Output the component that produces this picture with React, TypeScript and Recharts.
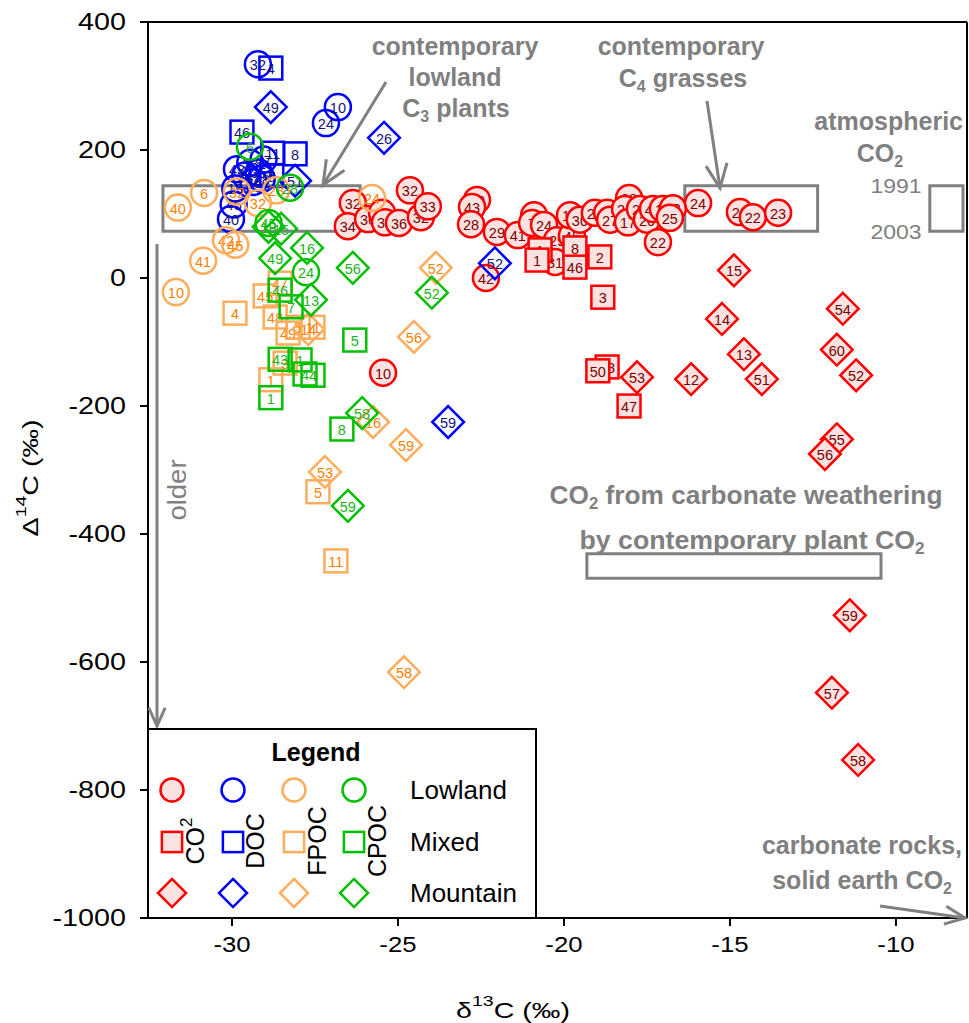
import React from "react";
import { ScatterChart, Scatter, XAxis, YAxis, ReferenceArea } from "recharts";

type Pt = { x: number; y: number; n: string };

const xTicks = [-30, -25, -20, -15, -10];
const yTicks = [-1000, -800, -600, -400, -200, 0, 200, 400];

// CO2 samples
const co2Lowland: Pt[] = [
  { x: -26.36, y: 117, n: "32" }, { x: -26.51, y: 81, n: "34" }, { x: -25.9, y: 92, n: "36" },
  { x: -25.48, y: 102, n: "34" }, { x: -25.39, y: 87, n: "35" }, { x: -24.97, y: 86, n: "36" },
  { x: -24.64, y: 137, n: "32" }, { x: -24.31, y: 95, n: "32" }, { x: -24.1, y: 112, n: "33" },
  { x: -22.62, y: 122, n: "40" }, { x: -22.77, y: 111, n: "43" }, { x: -22.8, y: 84, n: "28" },
  { x: -22.02, y: 72, n: "29" }, { x: -22.35, y: 0, n: "42" }, { x: -21.39, y: 67, n: "41" },
  { x: -20.9, y: 98, n: "4" }, { x: -20.96, y: 86, n: "7" }, { x: -20.6, y: 83, n: "24" },
  { x: -20.21, y: 59, n: "29" }, { x: -20.27, y: 25, n: "31" }, { x: -19.76, y: 66, n: "45" },
  { x: -19.82, y: 98, n: "19" }, { x: -19.52, y: 91, n: "30" }, { x: -19.07, y: 102, n: "20" },
  { x: -18.7, y: 102, n: "26" }, { x: -18.61, y: 91, n: "27" }, { x: -18.04, y: 125, n: "28" },
  { x: -18.16, y: 108, n: "25" }, { x: -18.07, y: 87, n: "17" }, { x: -17.71, y: 108, n: "24" },
  { x: -17.5, y: 91, n: "20" }, { x: -17.32, y: 108, n: "49" }, { x: -17.02, y: 108, n: "19" },
  { x: -16.72, y: 109, n: "23" }, { x: -16.81, y: 94, n: "25" }, { x: -17.17, y: 56, n: "22" },
  { x: -15.96, y: 117, n: "24" }, { x: -14.7, y: 103, n: "22" }, { x: -14.31, y: 95, n: "22" },
  { x: -13.55, y: 102, n: "23" }, { x: -25.45, y: -148, n: "10" },
];
const co2Mixed: Pt[] = [
  { x: -20.72, y: 44, n: "1" }, { x: -20.81, y: 28, n: "1" }, { x: -19.67, y: 47, n: "8" },
  { x: -19.67, y: 17, n: "46" }, { x: -18.92, y: 33, n: "2" }, { x: -18.83, y: -30, n: "3" },
  { x: -18.7, y: -139, n: "48" }, { x: -18.98, y: -145, n: "50" }, { x: -18.04, y: -200, n: "47" },
];
const co2Mountain: Pt[] = [
  { x: -17.8, y: -155, n: "53" }, { x: -16.17, y: -158, n: "12" }, { x: -15.24, y: -64, n: "14" },
  { x: -14.58, y: -119, n: "13" }, { x: -14.88, y: 12, n: "15" }, { x: -14.04, y: -158, n: "51" },
  { x: -11.6, y: -48, n: "54" }, { x: -11.78, y: -112, n: "60" }, { x: -11.2, y: -152, n: "52" },
  { x: -11.78, y: -252, n: "55" }, { x: -12.14, y: -275, n: "56" }, { x: -11.39, y: -527, n: "59" },
  { x: -11.93, y: -648, n: "57" }, { x: -11.14, y: -753, n: "58" },
];

// DOC samples
const docLowland: Pt[] = [
  { x: -29.22, y: 334, n: "32" }, { x: -27.17, y: 242, n: "24" }, { x: -26.81, y: 267, n: "10" },
  { x: -29.85, y: 170, n: "43" }, { x: -29.45, y: 180, n: "33" }, { x: -29.2, y: 165, n: "35" },
  { x: -29.35, y: 150, n: "36" }, { x: -29.05, y: 185, n: "27" }, { x: -29.6, y: 160, n: "34" },
  { x: -29.1, y: 155, n: "28" }, { x: -29.9, y: 140, n: "19" }, { x: -29.95, y: 115, n: "45" },
  { x: -30.03, y: 92, n: "40" },
];
const docMixed: Pt[] = [
  { x: -28.83, y: 328, n: "4" }, { x: -29.7, y: 228, n: "46" }, { x: -28.77, y: 195, n: "11" },
  { x: -28.1, y: 194, n: "8" }, { x: -28.8, y: 160, n: "5" },
];
const docMountain: Pt[] = [
  { x: -28.83, y: 267, n: "49" }, { x: -28.1, y: 152, n: "51" }, { x: -25.42, y: 219, n: "26" },
  { x: -22.08, y: 23, n: "52" }, { x: -23.49, y: -225, n: "59" },
];

// FPOC samples
const fpocLowland: Pt[] = [
  { x: -31.63, y: 110, n: "40" }, { x: -30.84, y: 133, n: "6" }, { x: -29.85, y: 135, n: "32" },
  { x: -29.22, y: 117, n: "32" }, { x: -28.67, y: 137, n: "28" }, { x: -30.18, y: 59, n: "42" },
  { x: -29.9, y: 52, n: "45" }, { x: -30.87, y: 27, n: "41" }, { x: -31.69, y: -22, n: "10" },
  { x: -25.78, y: 125, n: "24" },
];
const fpocMixed: Pt[] = [
  { x: -29.91, y: -55, n: "4" }, { x: -28.55, y: -8, n: "47" }, { x: -29.0, y: -28, n: "45" },
  { x: -28.7, y: -61, n: "48" }, { x: -28.31, y: -86, n: "49" }, { x: -28.01, y: -77, n: "5" },
  { x: -27.56, y: -77, n: "11" }, { x: -28.83, y: -159, n: "1" }, { x: -28.4, y: -133, n: "3" },
  { x: -27.41, y: -334, n: "5" }, { x: -26.87, y: -442, n: "11" },
];
const fpocMountain: Pt[] = [
  { x: -27.2, y: -303, n: "53" }, { x: -23.86, y: 16, n: "52" }, { x: -24.52, y: -92, n: "56" },
  { x: -25.75, y: -225, n: "16" }, { x: -24.76, y: -261, n: "59" }, { x: -24.82, y: -616, n: "58" },
  { x: -27.7, y: -80, n: "14" },
];

// CPOC samples
const cpocLowland: Pt[] = [
  { x: -29.46, y: 205, n: "6" }, { x: -28.25, y: 141, n: "28" }, { x: -27.77, y: 9, n: "24" },
  { x: -28.9, y: 86, n: "45" },
];
const cpocMixed: Pt[] = [
  { x: -28.55, y: -19, n: "46" }, { x: -28.22, y: -45, n: "7" }, { x: -28.83, y: -187, n: "1" },
  { x: -28.55, y: -127, n: "43" }, { x: -27.95, y: -128, n: "1" }, { x: -27.8, y: -150, n: "4" },
  { x: -27.56, y: -152, n: "4" }, { x: -26.3, y: -97, n: "5" }, { x: -26.69, y: -236, n: "8" },
];
const cpocMountain: Pt[] = [
  { x: -28.9, y: 80, n: "18" }, { x: -28.52, y: 77, n: "15" }, { x: -27.74, y: 47, n: "16" },
  { x: -28.7, y: 31, n: "49" }, { x: -27.62, y: -34, n: "13" }, { x: -26.36, y: 16, n: "56" },
  { x: -23.98, y: -23, n: "52" }, { x: -26.08, y: -211, n: "58" }, { x: -26.51, y: -356, n: "59" },
];

const W = 969;
const H = 1023;
const FONT = "'Liberation Sans', Arial, sans-serif";
const GRAY = "#808080";

type Sty = { stroke: string; fill: string; text: string };
const CO2: Sty = { stroke: "#ff0000", fill: "#fde2e2", text: "#7a0000" };
const DOC: Sty = { stroke: "#0000ff", fill: "none", text: "#14147a" };
const FPOC: Sty = { stroke: "#ffac5c", fill: "none", text: "#ff8000" };
const CPOC: Sty = { stroke: "#00c000", fill: "none", text: "#1cb41c" };

type Kind = "circle" | "square" | "diamond";

function Glyph({ kind, s, cx, cy, r = 13 }: { kind: Kind; s: Sty; cx: number; cy: number; r?: number }) {
  if (kind === "circle")
    return <circle cx={cx} cy={cy} r={r} fill={s.fill} stroke={s.stroke} strokeWidth={2.5} />;
  if (kind === "square") {
    const h = r * 0.88;
    return <rect x={cx - h} y={cy - h} width={2 * h} height={2 * h} fill={s.fill} stroke={s.stroke} strokeWidth={2.5} />;
  }
  const d = r * 1.22;
  return (
    <polygon
      points={`${cx},${cy - d} ${cx + d},${cy} ${cx},${cy + d} ${cx - d},${cy}`}
      fill={s.fill}
      stroke={s.stroke}
      strokeWidth={2.5}
    />
  );
}

function makeShape(kind: Kind, s: Sty) {
  return (props: any) => {
    const { cx, cy, payload } = props;
    if (cx == null || cy == null) return <g />;
    return (
      <g>
        <Glyph kind={kind} s={s} cx={cx} cy={cy} />
        <text x={cx} y={cy + 1} textAnchor="middle" dominantBaseline="central" fontSize={14.5} fontFamily={FONT} fill={s.text}>
          {payload.n}
        </text>
      </g>
    );
  };
}

function Arrow({ x1, y1, x2, y2, len = 22 }: { x1: number; y1: number; x2: number; y2: number; len?: number }) {
  const a = Math.atan2(y2 - y1, x2 - x1);
  const sp = 0.42;
  const p1 = [x2 - len * Math.cos(a - sp), y2 - len * Math.sin(a - sp)];
  const p2 = [x2 - len * Math.cos(a + sp), y2 - len * Math.sin(a + sp)];
  return (
    <g stroke={GRAY} strokeWidth={3} fill="none">
      <line x1={x1} y1={y1} x2={x2} y2={y2} />
      <polyline points={`${p1[0]},${p1[1]} ${x2},${y2} ${p2[0]},${p2[1]}`} />
    </g>
  );
}

// text stretched along its own direction (the source figure was widened)
function SText({ x, y, rot = 0, sx = 1, children, ...rest }: any) {
  return (
    <g transform={`translate(${x},${y}) rotate(${rot}) scale(${sx},1)`}>
      <text x={0} y={0} dominantBaseline="central" fontFamily={FONT} {...rest}>
        {children}
      </text>
    </g>
  );
}

function XTick(props: any) {
  const { x, y, payload } = props;
  return (
    <SText x={x} y={y + 12} sx={1.12} textAnchor="middle" fontSize={23} fill="#000">
      {payload.value}
    </SText>
  );
}

function YTick(props: any) {
  const { x, y, payload } = props;
  return (
    <SText x={x - 8} y={y} sx={1.25} textAnchor="end" fontSize={23} fill="#000">
      {payload.value}
    </SText>
  );
}

const series: { data: Pt[]; kind: Kind; s: Sty }[] = [
  { data: co2Lowland, kind: "circle", s: CO2 },
  { data: co2Mixed, kind: "square", s: CO2 },
  { data: co2Mountain, kind: "diamond", s: CO2 },
  { data: docLowland, kind: "circle", s: DOC },
  { data: docMixed, kind: "square", s: DOC },
  { data: docMountain, kind: "diamond", s: DOC },
  { data: fpocLowland, kind: "circle", s: FPOC },
  { data: fpocMixed, kind: "square", s: FPOC },
  { data: fpocMountain, kind: "diamond", s: FPOC },
  { data: cpocLowland, kind: "circle", s: CPOC },
  { data: cpocMixed, kind: "square", s: CPOC },
  { data: cpocMountain, kind: "diamond", s: CPOC },
];

const legendCols = [
  { s: CO2, x: 172, label: "CO", sub: "2", lx: 195 },
  { s: DOC, x: 233, label: "DOC", sub: "", lx: 255 },
  { s: FPOC, x: 294, label: "FPOC", sub: "", lx: 317 },
  { s: CPOC, x: 354, label: "CPOC", sub: "", lx: 377 },
];
const legendRows: { kind: Kind; y: number; label: string }[] = [
  { kind: "circle", y: 790, label: "Lowland" },
  { kind: "square", y: 842, label: "Mixed" },
  { kind: "diamond", y: 893, label: "Mountain" },
];

export default function App() {
  const bold = { fontWeight: 700, fontSize: 25, fill: GRAY } as const;
  return (
    <div style={{ position: "absolute", left: 0, top: 0, width: W, height: H, background: "#fff" }}>
      <ScatterChart width={W} height={H} margin={{ top: 22, right: 2, bottom: 75, left: 88 }}>
        <XAxis
          type="number"
          dataKey="x"
          domain={[-32.53, -7.86]}
          ticks={xTicks}
          allowDataOverflow
          tick={<XTick />}
          tickSize={8}
          tickMargin={6}
          stroke="#000"
          strokeWidth={2}
          height={30}
        />
        <YAxis
          type="number"
          dataKey="y"
          domain={[-1000, 400]}
          ticks={yTicks}
          allowDataOverflow
          tick={<YTick />}
          tickSize={8}
          tickMargin={6}
          stroke="#000"
          strokeWidth={2}
          width={60}
        />
        <ReferenceArea x1={-32.08} x2={-26.14} y1={73} y2={144} fill="none" stroke={GRAY} strokeWidth={3} />
        <ReferenceArea x1={-16.36} x2={-12.36} y1={73} y2={144} fill="none" stroke={GRAY} strokeWidth={3} />
        <ReferenceArea x1={-8.98} x2={-7.98} y1={73} y2={144} fill="none" stroke={GRAY} strokeWidth={3} />
        <ReferenceArea x1={-19.31} x2={-10.45} y1={-469} y2={-431} fill="none" stroke={GRAY} strokeWidth={3} />
        {series.map((sr, i) => (
          <Scatter key={i} data={sr.data} dataKey="y" shape={makeShape(sr.kind, sr.s)} isAnimationActive={false} />
        ))}
      </ScatterChart>
      <svg width={W} height={H} style={{ position: "absolute", left: 0, top: 0, pointerEvents: "none" }}>
        {/* frame top & right */}
        <line x1={147} y1={22} x2={967} y2={22} stroke="#000" strokeWidth={2} />
        <line x1={967} y1={22} x2={967} y2={918} stroke="#000" strokeWidth={2} />

        {/* C3 annotation */}
        <SText x={455} y={46} textAnchor="middle" {...bold}>contemporary</SText>
        <SText x={455} y={77} textAnchor="middle" {...bold}>lowland</SText>
        <SText x={456} y={108} textAnchor="middle" {...bold}>
          C<tspan fontSize={16} dy={8}>3</tspan><tspan dy={-8}> plants</tspan>
        </SText>
        <Arrow x1={386} y1={82} x2={323} y2={185} len={26} />

        {/* C4 annotation */}
        <SText x={681} y={46} textAnchor="middle" {...bold}>contemporary</SText>
        <SText x={683} y={78} textAnchor="middle" {...bold}>
          C<tspan fontSize={16} dy={8}>4</tspan><tspan dy={-8}> grasses</tspan>
        </SText>
        <Arrow x1={707} y1={101} x2={720} y2={188} len={26} />

        {/* atmospheric */}
        <SText x={963} y={121} textAnchor="end" {...bold}>atmospheric</SText>
        <SText x={880} y={153} textAnchor="middle" {...bold}>
          CO<tspan fontSize={16} dy={8}>2</tspan>
        </SText>
        <SText x={896} y={186} sx={1.15} textAnchor="middle" fontSize={20} fill={GRAY}>1991</SText>
        <SText x={896} y={232} sx={1.15} textAnchor="middle" fontSize={20} fill={GRAY}>2003</SText>

        {/* older */}
        <Arrow x1={157} y1={244} x2={157} y2={726} len={20} />
        <SText x={177} y={490} rot={-90} sx={1.1} textAnchor="middle" fontSize={25} fill={GRAY}>older</SText>

        {/* carbonate weathering */}
        <SText x={746} y={495} sx={1.05} textAnchor="middle" {...bold}>
          CO<tspan fontSize={16} dy={8}>2</tspan><tspan dy={-8}> from carbonate weathering</tspan>
        </SText>
        <SText x={752} y={540} sx={1.07} textAnchor="middle" {...bold}>
          by contemporary plant CO<tspan fontSize={16} dy={8}>2</tspan>
        </SText>

        {/* carbonate rocks */}
        <SText x={962} y={845} textAnchor="end" {...bold}>carbonate rocks,</SText>
        <SText x={952} y={880} textAnchor="end" {...bold}>
          solid earth CO<tspan fontSize={16} dy={8}>2</tspan>
        </SText>
        <Arrow x1={880} y1={906} x2={965} y2={918} len={22} />

        {/* legend */}
        <rect x={148} y={729} width={388} height={189} fill="#fff" stroke="#000" strokeWidth={2} />
        <SText x={316} y={752} textAnchor="middle" fontWeight={700} fontSize={25} fill="#000">Legend</SText>
        {legendRows.map((row) => (
          <g key={row.label}>
            {legendCols.map((c) => (
              <Glyph key={c.x} kind={row.kind} s={c.s} cx={c.x} cy={row.y} r={11.5} />
            ))}
            <SText x={410} y={row.y} fontSize={26} fill="#000">{row.label}</SText>
          </g>
        ))}
        {legendCols.map((c) => (
          <SText key={c.label} x={c.lx} y={841} rot={-90} textAnchor="middle" fontSize={25} fill="#000">
            {c.label}
            {c.sub ? <tspan fontSize={17} dy={-9}>{c.sub}</tspan> : null}
          </SText>
        ))}

        {/* axis titles */}
        <SText x={513} y={1010} sx={1.3} textAnchor="middle" fontSize={22} fill="#000">
          δ<tspan fontSize={15} dy={-9}>13</tspan><tspan dy={9}>C (‰)</tspan>
        </SText>
        <SText x={30} y={478} rot={-90} sx={1.3} textAnchor="middle" fontSize={22} fill="#000">
          Δ<tspan fontSize={15} dy={-9}>14</tspan><tspan dy={9}>C (‰)</tspan>
        </SText>
      </svg>
    </div>
  );
}
